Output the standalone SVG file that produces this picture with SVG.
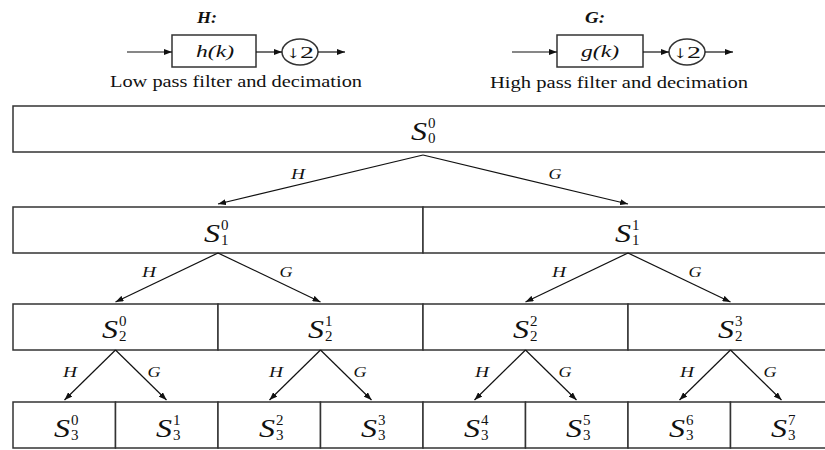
<svg xmlns="http://www.w3.org/2000/svg" width="825" height="450" viewBox="0 0 825 450">
<defs>
<style>
.bg{fill:#fff}
.box{fill:#fff;stroke:#333;stroke-width:1.5}
.ln{fill:none;stroke:#111;stroke-width:1.2}
.S{font-family:"Liberation Serif","DejaVu Serif",serif;font-style:italic;font-size:26px;fill:#111;text-anchor:end}
.d{font-family:"Liberation Serif","DejaVu Serif",serif;font-size:15px;fill:#111;text-anchor:start}
.lab{font-family:"Liberation Serif","DejaVu Serif",serif;font-style:italic;font-size:15.5px;fill:#111;text-anchor:middle}
.hd{font-family:"Liberation Serif","DejaVu Serif",serif;font-style:italic;font-weight:bold;font-size:16px;fill:#111;text-anchor:middle}
.cap{font-family:"Liberation Serif","DejaVu Serif",serif;font-size:16px;fill:#111}
.fn{font-family:"Liberation Serif","DejaVu Serif",serif;font-style:italic;font-size:17px;fill:#111;text-anchor:middle}
.dn{font-family:"Liberation Serif","DejaVu Serif",serif;font-size:17px;fill:#111;text-anchor:middle}
</style>
<marker id="ah" viewBox="0 0 8 6" refX="8" refY="3" markerWidth="8" markerHeight="6" markerUnits="userSpaceOnUse" orient="auto">
<path d="M0,0 L8,3 L0,6 z" fill="#111"/>
</marker>
</defs>
<rect class="bg" x="0" y="0" width="825" height="450"/>

<!-- header blocks -->
<g id="filterH">
<text class="hd" x="207" y="23" textLength="20" lengthAdjust="spacingAndGlyphs">H:</text>
<rect class="box" x="172" y="35" width="84" height="32"/>
<text class="fn" x="215" y="57" textLength="38" lengthAdjust="spacingAndGlyphs">h(k)</text>
<ellipse class="box" cx="300" cy="52" rx="18" ry="13"/>
<text class="dn" x="300" y="58" textLength="28" lengthAdjust="spacingAndGlyphs">↓2</text>
<text class="cap" x="110" y="87" textLength="252" lengthAdjust="spacingAndGlyphs">Low pass filter and decimation</text>
</g>
<g id="filterG">
<text class="hd" x="595" y="23" textLength="20" lengthAdjust="spacingAndGlyphs">G:</text>
<rect class="box" x="557" y="35" width="86" height="32"/>
<text class="fn" x="600" y="57" textLength="38" lengthAdjust="spacingAndGlyphs">g(k)</text>
<ellipse class="box" cx="687" cy="52" rx="18" ry="13"/>
<text class="dn" x="687" y="58" textLength="28" lengthAdjust="spacingAndGlyphs">↓2</text>
<text class="cap" x="490" y="88" textLength="258" lengthAdjust="spacingAndGlyphs">High pass filter and decimation</text>
</g>

<!-- tree nodes -->
<g id="S00"><rect class="box" x="13" y="106" width="820" height="46"/><text class="S" x="427" y="140" textLength="16" lengthAdjust="spacingAndGlyphs">S</text><text class="d" x="428" y="128">0</text><text class="d" x="428" y="143">0</text></g>

<g id="S10"><rect class="box" x="13" y="207" width="410" height="46"/><text class="S" x="220" y="242" textLength="16" lengthAdjust="spacingAndGlyphs">S</text><text class="d" x="221" y="230">0</text><text class="d" x="221" y="245">1</text></g>
<g id="S11"><rect class="box" x="423" y="207" width="410" height="46"/><text class="S" x="631" y="242" textLength="16" lengthAdjust="spacingAndGlyphs">S</text><text class="d" x="632" y="230">1</text><text class="d" x="632" y="245">1</text></g>

<g id="S20"><rect class="box" x="13" y="304" width="205" height="46"/><text class="S" x="118" y="338" textLength="16" lengthAdjust="spacingAndGlyphs">S</text><text class="d" x="119" y="326">0</text><text class="d" x="119" y="341">2</text></g>
<g id="S21"><rect class="box" x="218" y="304" width="205" height="46"/><text class="S" x="324" y="338" textLength="16" lengthAdjust="spacingAndGlyphs">S</text><text class="d" x="325" y="326">1</text><text class="d" x="325" y="341">2</text></g>
<g id="S22"><rect class="box" x="423" y="304" width="205" height="46"/><text class="S" x="529" y="338" textLength="16" lengthAdjust="spacingAndGlyphs">S</text><text class="d" x="530" y="326">2</text><text class="d" x="530" y="341">2</text></g>
<g id="S23"><rect class="box" x="628" y="304" width="205" height="46"/><text class="S" x="734" y="338" textLength="16" lengthAdjust="spacingAndGlyphs">S</text><text class="d" x="735" y="326">3</text><text class="d" x="735" y="341">2</text></g>

<g id="S30"><rect class="box" x="13" y="402" width="102.5" height="46"/><text class="S" x="70" y="437" textLength="16" lengthAdjust="spacingAndGlyphs">S</text><text class="d" x="71" y="425">0</text><text class="d" x="71" y="440">3</text></g>
<g id="S31"><rect class="box" x="115.5" y="402" width="102.5" height="46"/><text class="S" x="172" y="437" textLength="16" lengthAdjust="spacingAndGlyphs">S</text><text class="d" x="173" y="425">1</text><text class="d" x="173" y="440">3</text></g>
<g id="S32"><rect class="box" x="218" y="402" width="102.5" height="46"/><text class="S" x="275" y="437" textLength="16" lengthAdjust="spacingAndGlyphs">S</text><text class="d" x="276" y="425">2</text><text class="d" x="276" y="440">3</text></g>
<g id="S33"><rect class="box" x="320.5" y="402" width="102.5" height="46"/><text class="S" x="377" y="437" textLength="16" lengthAdjust="spacingAndGlyphs">S</text><text class="d" x="378" y="425">3</text><text class="d" x="378" y="440">3</text></g>
<g id="S34"><rect class="box" x="423" y="402" width="102.5" height="46"/><text class="S" x="480" y="437" textLength="16" lengthAdjust="spacingAndGlyphs">S</text><text class="d" x="481" y="425">4</text><text class="d" x="481" y="440">3</text></g>
<g id="S35"><rect class="box" x="525.5" y="402" width="102.5" height="46"/><text class="S" x="582" y="437" textLength="16" lengthAdjust="spacingAndGlyphs">S</text><text class="d" x="583" y="425">5</text><text class="d" x="583" y="440">3</text></g>
<g id="S36"><rect class="box" x="628" y="402" width="102.5" height="46"/><text class="S" x="685" y="437" textLength="16" lengthAdjust="spacingAndGlyphs">S</text><text class="d" x="686" y="425">6</text><text class="d" x="686" y="440">3</text></g>
<g id="S37"><rect class="box" x="730.5" y="402" width="102.5" height="46"/><text class="S" x="787" y="437" textLength="16" lengthAdjust="spacingAndGlyphs">S</text><text class="d" x="788" y="425">7</text><text class="d" x="788" y="440">3</text></g>

<!-- connectors -->
<g id="connectors">
<line class="ln" x1="127" y1="52" x2="172" y2="52" marker-end="url(#ah)"/>
<line class="ln" x1="256" y1="52" x2="282" y2="52" marker-end="url(#ah)"/>
<line class="ln" x1="318" y1="52" x2="345" y2="52" marker-end="url(#ah)"/>
<line class="ln" x1="512" y1="52" x2="557" y2="52" marker-end="url(#ah)"/>
<line class="ln" x1="643" y1="52" x2="669" y2="52" marker-end="url(#ah)"/>
<line class="ln" x1="705" y1="52" x2="733" y2="52" marker-end="url(#ah)"/>

<line class="ln" x1="423" y1="155" x2="218" y2="204" marker-end="url(#ah)"/>
<line class="ln" x1="423" y1="155" x2="628" y2="204" marker-end="url(#ah)"/>
<text class="lab" x="298" y="179" textLength="14" lengthAdjust="spacingAndGlyphs">H</text>
<text class="lab" x="555" y="179" textLength="13" lengthAdjust="spacingAndGlyphs">G</text>

<line class="ln" x1="218" y1="253" x2="115.5" y2="302" marker-end="url(#ah)"/>
<line class="ln" x1="218" y1="253" x2="320.5" y2="302" marker-end="url(#ah)"/>
<line class="ln" x1="628" y1="253" x2="525.5" y2="302" marker-end="url(#ah)"/>
<line class="ln" x1="628" y1="253" x2="730.5" y2="302" marker-end="url(#ah)"/>
<text class="lab" x="149" y="277" textLength="14" lengthAdjust="spacingAndGlyphs">H</text>
<text class="lab" x="286" y="277" textLength="13" lengthAdjust="spacingAndGlyphs">G</text>
<text class="lab" x="559" y="277" textLength="14" lengthAdjust="spacingAndGlyphs">H</text>
<text class="lab" x="695" y="277" textLength="13" lengthAdjust="spacingAndGlyphs">G</text>

<line class="ln" x1="115.5" y1="350" x2="64.5" y2="400" marker-end="url(#ah)"/>
<line class="ln" x1="115.5" y1="350" x2="166.5" y2="400" marker-end="url(#ah)"/>
<line class="ln" x1="320.5" y1="350" x2="269.5" y2="400" marker-end="url(#ah)"/>
<line class="ln" x1="320.5" y1="350" x2="371.5" y2="400" marker-end="url(#ah)"/>
<line class="ln" x1="525.5" y1="350" x2="474.5" y2="400" marker-end="url(#ah)"/>
<line class="ln" x1="525.5" y1="350" x2="576.5" y2="400" marker-end="url(#ah)"/>
<line class="ln" x1="730.5" y1="350" x2="679.5" y2="400" marker-end="url(#ah)"/>
<line class="ln" x1="730.5" y1="350" x2="781.5" y2="400" marker-end="url(#ah)"/>
<text class="lab" x="70" y="377" textLength="14" lengthAdjust="spacingAndGlyphs">H</text>
<text class="lab" x="154" y="377" textLength="13" lengthAdjust="spacingAndGlyphs">G</text>
<text class="lab" x="276" y="377" textLength="14" lengthAdjust="spacingAndGlyphs">H</text>
<text class="lab" x="360" y="377" textLength="13" lengthAdjust="spacingAndGlyphs">G</text>
<text class="lab" x="482" y="377" textLength="14" lengthAdjust="spacingAndGlyphs">H</text>
<text class="lab" x="565" y="377" textLength="13" lengthAdjust="spacingAndGlyphs">G</text>
<text class="lab" x="687" y="377" textLength="14" lengthAdjust="spacingAndGlyphs">H</text>
<text class="lab" x="770" y="377" textLength="13" lengthAdjust="spacingAndGlyphs">G</text>
</g>
</svg>
